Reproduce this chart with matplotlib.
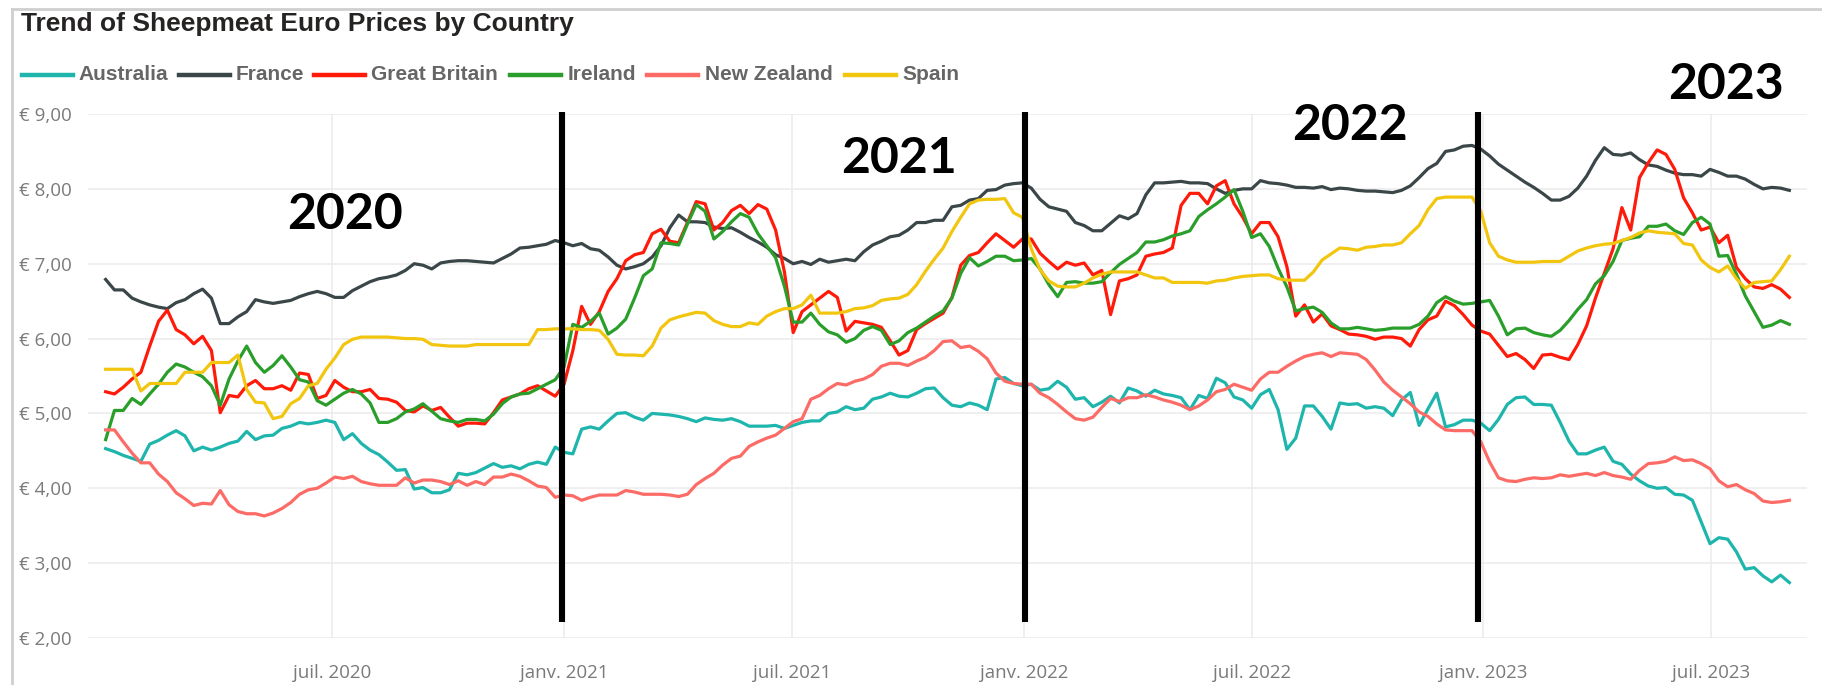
import numpy as np
import pandas as pd
import matplotlib
matplotlib.use("Agg")
import matplotlib.pyplot as plt
from matplotlib.lines import Line2D
from matplotlib.ticker import FuncFormatter

# ==================================================
# DATA  (weekly prices in euro)
# ==================================================
START = "2020-01-03"
N_WEEKS = 192

australia = [
    4.53, 4.49, 4.44, 4.40, 4.36, 4.59, 4.64, 4.71, 4.77, 4.70,
    4.50, 4.55, 4.51, 4.55, 4.60, 4.63, 4.76, 4.65, 4.70, 4.71,
    4.80, 4.83, 4.88, 4.86, 4.88, 4.91, 4.88, 4.65, 4.73, 4.60,
    4.51, 4.45, 4.35, 4.24, 4.25, 3.99, 4.01, 3.94, 3.94, 3.98,
    4.20, 4.18, 4.21, 4.27, 4.33, 4.28, 4.30, 4.26, 4.32, 4.35,
    4.32, 4.55, 4.48, 4.46, 4.79, 4.82, 4.79, 4.90, 5.00, 5.01,
    4.95, 4.91, 5.00, 4.99, 4.98, 4.96, 4.93, 4.89, 4.94, 4.92,
    4.91, 4.93, 4.89, 4.83, 4.83, 4.83, 4.84, 4.80, 4.84, 4.88,
    4.90, 4.90, 5.00, 5.02, 5.09, 5.05, 5.07, 5.19, 5.22, 5.27,
    5.23, 5.22, 5.27, 5.33, 5.34, 5.21, 5.11, 5.09, 5.14, 5.11,
    5.05, 5.46, 5.48, 5.40, 5.37, 5.39, 5.31, 5.33, 5.43, 5.35,
    5.19, 5.21, 5.09, 5.15, 5.23, 5.14, 5.34, 5.30, 5.23, 5.31,
    5.26, 5.24, 5.21, 5.05, 5.24, 5.20, 5.47, 5.41, 5.22, 5.18,
    5.07, 5.25, 5.32, 5.05, 4.52, 4.67, 5.10, 5.10, 4.96, 4.79,
    5.14, 5.12, 5.13, 5.07, 5.09, 5.07, 4.97, 5.18, 5.28, 4.84,
    5.06, 5.27, 4.82, 4.85, 4.91, 4.91, 4.87, 4.77, 4.92, 5.12,
    5.21, 5.22, 5.12, 5.12, 5.11, 4.88, 4.63, 4.46, 4.46, 4.51,
    4.55, 4.36, 4.32, 4.19, 4.10, 4.03, 4.00, 4.01, 3.92, 3.91,
    3.84, 3.55, 3.26, 3.34, 3.32, 3.15, 2.92, 2.94, 2.83, 2.75,
    2.84, 2.74,
]

france = [
    6.79, 6.65, 6.65, 6.54, 6.49, 6.45, 6.42, 6.40, 6.48, 6.52,
    6.60, 6.66, 6.54, 6.20, 6.20, 6.29, 6.36, 6.52, 6.49, 6.47,
    6.49, 6.51, 6.56, 6.60, 6.63, 6.60, 6.55, 6.55, 6.64, 6.70,
    6.76, 6.80, 6.82, 6.85, 6.91, 7.00, 6.98, 6.93, 7.01, 7.03,
    7.04, 7.04, 7.03, 7.02, 7.01, 7.07, 7.13, 7.21, 7.22, 7.24,
    7.26, 7.31, 7.28, 7.24, 7.27, 7.20, 7.18, 7.09, 6.98, 6.93,
    6.96, 7.00, 7.09, 7.24, 7.48, 7.65, 7.56, 7.56, 7.55, 7.49,
    7.47, 7.48, 7.42, 7.35, 7.29, 7.22, 7.12, 7.07, 7.00, 7.03,
    6.99, 7.06, 7.02, 7.04, 7.06, 7.04, 7.16, 7.25, 7.30, 7.36,
    7.38, 7.45, 7.55, 7.55, 7.58, 7.58, 7.76, 7.78, 7.85, 7.87,
    7.98, 7.99, 8.05, 8.07, 8.08, 8.01, 7.86, 7.76, 7.73, 7.70,
    7.55, 7.51, 7.44, 7.44, 7.54, 7.64, 7.60, 7.67, 7.92, 8.08,
    8.08, 8.09, 8.10, 8.08, 8.08, 8.07, 8.00, 7.94, 7.98, 8.00,
    8.00, 8.11, 8.08, 8.07, 8.05, 8.02, 8.02, 8.01, 8.03, 7.99,
    8.01, 8.00, 7.98, 7.97, 7.97, 7.96, 7.95, 7.98, 8.04, 8.15,
    8.27, 8.34, 8.50, 8.52, 8.57, 8.58, 8.53, 8.44, 8.33, 8.25,
    8.17, 8.09, 8.02, 7.94, 7.85, 7.85, 7.90, 8.01, 8.17, 8.38,
    8.55, 8.46, 8.45, 8.48, 8.39, 8.32, 8.30, 8.25, 8.21, 8.19,
    8.19, 8.17, 8.26, 8.22, 8.17, 8.17, 8.13, 8.06, 8.00, 8.02,
    8.01, 7.98,
]

great_britain = [
    5.29, 5.26, 5.35, 5.46, 5.55, 5.90, 6.23, 6.38, 6.12, 6.05,
    5.93, 6.03, 5.84, 5.01, 5.24, 5.22, 5.37, 5.44, 5.33, 5.33,
    5.37, 5.31, 5.54, 5.52, 5.20, 5.24, 5.44, 5.35, 5.29, 5.29,
    5.32, 5.20, 5.19, 5.15, 5.04, 5.02, 5.10, 5.04, 5.08, 4.95,
    4.83, 4.87, 4.87, 4.86, 5.01, 5.18, 5.22, 5.26, 5.33, 5.37,
    5.30, 5.23, 5.39, 5.84, 6.43, 6.19, 6.36, 6.63, 6.80, 7.04,
    7.12, 7.15, 7.40, 7.46, 7.30, 7.28, 7.55, 7.83, 7.80, 7.45,
    7.55, 7.71, 7.78, 7.67, 7.79, 7.73, 7.45, 6.89, 6.08, 6.36,
    6.45, 6.54, 6.63, 6.55, 6.10, 6.23, 6.21, 6.19, 6.15, 5.97,
    5.78, 5.84, 6.12, 6.20, 6.27, 6.34, 6.55, 6.98, 7.11, 7.15,
    7.28, 7.40, 7.31, 7.22, 7.33, 7.33, 7.14, 7.03, 6.93, 7.02,
    6.98, 7.01, 6.85, 6.91, 6.32, 6.77, 6.80, 6.85, 7.10, 7.13,
    7.15, 7.21, 7.78, 7.94, 7.94, 7.80, 8.04, 8.11, 7.80, 7.62,
    7.40, 7.55, 7.55, 7.36, 6.96, 6.30, 6.45, 6.22, 6.33, 6.17,
    6.12, 6.06, 6.05, 6.03, 5.99, 6.02, 6.02, 6.00, 5.90, 6.12,
    6.25, 6.30, 6.50, 6.44, 6.32, 6.18, 6.10, 6.06, 5.91, 5.76,
    5.80, 5.72, 5.60, 5.78, 5.79, 5.75, 5.72, 5.92, 6.17, 6.54,
    6.87, 7.20, 7.75, 7.45, 8.15, 8.35, 8.52, 8.46, 8.26, 7.88,
    7.68, 7.45, 7.49, 7.28, 7.38, 6.95, 6.80, 6.69, 6.67, 6.72,
    6.66, 6.55,
]

ireland = [
    4.65, 5.04, 5.04, 5.20, 5.12, 5.26, 5.39, 5.55, 5.66, 5.62,
    5.55, 5.49, 5.37, 5.11, 5.46, 5.70, 5.90, 5.68, 5.55, 5.64,
    5.77, 5.62, 5.45, 5.42, 5.17, 5.11, 5.19, 5.27, 5.32, 5.26,
    5.14, 4.88, 4.88, 4.93, 5.02, 5.06, 5.13, 5.03, 4.93, 4.90,
    4.88, 4.92, 4.92, 4.90, 4.99, 5.13, 5.22, 5.26, 5.27, 5.33,
    5.39, 5.45, 5.62, 6.19, 6.15, 6.23, 6.34, 6.06, 6.14, 6.26,
    6.54, 6.84, 6.93, 7.28, 7.27, 7.25, 7.53, 7.79, 7.70, 7.33,
    7.43, 7.56, 7.67, 7.62, 7.40, 7.24, 7.08, 6.70, 6.22, 6.22,
    6.34, 6.19, 6.09, 6.05, 5.95, 6.00, 6.11, 6.16, 6.11, 5.92,
    5.97, 6.08, 6.14, 6.22, 6.30, 6.37, 6.54, 6.87, 7.08, 6.97,
    7.03, 7.10, 7.10, 7.04, 7.05, 7.07, 6.93, 6.72, 6.56, 6.75,
    6.76, 6.74, 6.74, 6.76, 6.88, 6.99, 7.07, 7.15, 7.29, 7.29,
    7.32, 7.37, 7.40, 7.44, 7.63, 7.72, 7.80, 7.89, 7.99, 7.70,
    7.35, 7.40, 7.23, 6.94, 6.69, 6.37, 6.40, 6.42, 6.35, 6.21,
    6.13, 6.13, 6.15, 6.13, 6.11, 6.12, 6.14, 6.14, 6.14, 6.19,
    6.30, 6.48, 6.56, 6.50, 6.46, 6.47, 6.49, 6.51, 6.30, 6.05,
    6.13, 6.14, 6.08, 6.05, 6.03, 6.11, 6.24, 6.39, 6.52, 6.73,
    6.84, 7.03, 7.31, 7.34, 7.36, 7.50, 7.50, 7.53, 7.44, 7.39,
    7.55, 7.62, 7.53, 7.10, 7.11, 6.86, 6.57, 6.36, 6.15, 6.18,
    6.24, 6.19,
]

new_zealand = [
    4.78, 4.78, 4.62, 4.47, 4.34, 4.34, 4.19, 4.09, 3.94, 3.86,
    3.77, 3.80, 3.79, 3.97, 3.78, 3.69, 3.66, 3.66, 3.63, 3.67,
    3.73, 3.81, 3.92, 3.98, 4.00, 4.07, 4.15, 4.13, 4.16, 4.09,
    4.06, 4.04, 4.04, 4.04, 4.14, 4.07, 4.11, 4.11, 4.09, 4.05,
    4.10, 4.04, 4.09, 4.05, 4.15, 4.15, 4.19, 4.16, 4.10, 4.03,
    4.01, 3.88, 3.91, 3.90, 3.84, 3.88, 3.91, 3.91, 3.91, 3.97,
    3.95, 3.92, 3.92, 3.92, 3.91, 3.89, 3.92, 4.05, 4.13, 4.20,
    4.31, 4.40, 4.43, 4.56, 4.62, 4.67, 4.71, 4.80, 4.89, 4.93,
    5.19, 5.24, 5.33, 5.40, 5.38, 5.43, 5.46, 5.52, 5.63, 5.67,
    5.67, 5.64, 5.70, 5.75, 5.84, 5.96, 5.97, 5.88, 5.90, 5.83,
    5.73, 5.54, 5.43, 5.40, 5.39, 5.39, 5.27, 5.21, 5.12, 5.02,
    4.93, 4.91, 4.95, 5.08, 5.20, 5.16, 5.21, 5.21, 5.25, 5.22,
    5.18, 5.15, 5.11, 5.05, 5.10, 5.18, 5.29, 5.32, 5.39, 5.35,
    5.31, 5.46, 5.55, 5.55, 5.63, 5.70, 5.76, 5.79, 5.81, 5.76,
    5.81, 5.80, 5.79, 5.72, 5.58, 5.42, 5.31, 5.22, 5.13, 5.02,
    4.96, 4.86, 4.78, 4.77, 4.77, 4.77, 4.62, 4.35, 4.14, 4.10,
    4.09, 4.12, 4.14, 4.13, 4.14, 4.18, 4.16, 4.18, 4.20, 4.17,
    4.21, 4.17, 4.15, 4.12, 4.24, 4.33, 4.34, 4.36, 4.42, 4.37,
    4.38, 4.33, 4.26, 4.10, 4.02, 4.05, 3.98, 3.93, 3.83, 3.81,
    3.82, 3.84,
]

spain = [
    5.59, 5.59, 5.59, 5.59, 5.30, 5.40, 5.40, 5.40, 5.40, 5.55,
    5.55, 5.55, 5.68, 5.68, 5.68, 5.78, 5.32, 5.15, 5.14, 4.93,
    4.96, 5.13, 5.20, 5.37, 5.40, 5.59, 5.74, 5.92, 5.99, 6.02,
    6.02, 6.02, 6.02, 6.01, 6.00, 6.00, 5.99, 5.92, 5.91, 5.90,
    5.90, 5.90, 5.92, 5.92, 5.92, 5.92, 5.92, 5.92, 5.92, 6.12,
    6.12, 6.13, 6.13, 6.13, 6.12, 6.12, 6.11, 5.99, 5.79, 5.78,
    5.78, 5.77, 5.90, 6.14, 6.25, 6.29, 6.32, 6.35, 6.34, 6.24,
    6.19, 6.16, 6.16, 6.21, 6.19, 6.30, 6.36, 6.40, 6.40, 6.45,
    6.58, 6.34, 6.34, 6.34, 6.36, 6.40, 6.41, 6.44, 6.51, 6.53,
    6.54, 6.59, 6.72, 6.90, 7.06, 7.21, 7.43, 7.62, 7.80, 7.85,
    7.86, 7.86, 7.87, 7.68, 7.62, 7.20, 6.92, 6.77, 6.70, 6.69,
    6.69, 6.74, 6.81, 6.86, 6.89, 6.89, 6.89, 6.89, 6.85, 6.81,
    6.81, 6.75, 6.75, 6.75, 6.75, 6.74, 6.77, 6.78, 6.81, 6.83,
    6.84, 6.85, 6.85, 6.80, 6.78, 6.78, 6.78, 6.89, 7.05, 7.13,
    7.21, 7.20, 7.18, 7.22, 7.23, 7.25, 7.25, 7.28, 7.40, 7.51,
    7.72, 7.87, 7.89, 7.89, 7.89, 7.89, 7.70, 7.28, 7.10, 7.05,
    7.02, 7.02, 7.02, 7.03, 7.03, 7.03, 7.10, 7.17, 7.21, 7.24,
    7.26, 7.27, 7.31, 7.35, 7.41, 7.44, 7.42, 7.41, 7.40, 7.27,
    7.25, 7.05, 6.95, 6.89, 6.97, 6.80, 6.67, 6.75, 6.76, 6.77,
    6.92, 7.10,
]

COUNTRIES = ["Australia", "France", "Great Britain", "Ireland", "New Zealand", "Spain"]
SERIES = [australia, france, great_britain, ireland, new_zealand, spain]
COLORS = ["#1DB5AC", "#3A4648", "#FF1A0A", "#2A9E2A", "#FD6B66", "#F2C50F"]

X_TICKS = ["2020-07-01", "2021-01-01", "2021-07-01", "2022-01-01",
           "2022-07-01", "2023-01-01", "2023-07-01"]
X_TICK_LABELS = ["juil. 2020", "janv. 2021", "juil. 2021", "janv. 2022",
                 "juil. 2022", "janv. 2023", "juil. 2023"]

# hand drawn year markers on the original chart
YEAR_LINE_DATES = ["2020-12-30", "2022-01-02", "2022-12-28"]
YEAR_LABELS = ["2020", "2021", "2022", "2023"]
YEAR_LABEL_DATES = ["2020-07-11", "2021-09-24", "2022-09-17", "2023-07-13"]
YEAR_LABEL_VALUES = [7.66, 8.41, 8.85, 9.40]

# ==================================================
# FIGURE
# ==================================================
W, H = 1822, 685
fig = plt.figure(figsize=(W / 100, H / 100), dpi=100)
fig.patch.set_facecolor("white")

ax = fig.add_axes([88 / W, 1 - 638 / H, (1807 - 88) / W, (638 - 114) / H])

dates = pd.date_range(START, periods=N_WEEKS, freq="7D")
for name, vals, col in zip(COUNTRIES, SERIES, COLORS):
    ax.plot(dates, vals, color=col, lw=2.3, label=name, zorder=3)

# year separators + labels
ax.vlines(pd.to_datetime(YEAR_LINE_DATES), 2.21, 9.03, color="black", lw=4.4,
          zorder=6, clip_on=False)
for lab, d, v in zip(YEAR_LABELS, YEAR_LABEL_DATES, YEAR_LABEL_VALUES):
    ax.text(pd.Timestamp(d), v, lab, ha="center", va="center", fontsize=36,
            fontweight="bold", family="Lato", color="black", zorder=7, clip_on=False)

# axes styling
ax.set_ylim(2, 9)
ax.set_xlim(pd.Timestamp("2019-12-20"), pd.Timestamp("2023-09-15"))
ax.set_yticks(range(2, 10))
ax.yaxis.set_major_formatter(FuncFormatter(lambda v, p: f"€ {v:.2f}".replace(".", ",")))
ax.set_xticks(pd.to_datetime(X_TICKS))
ax.set_xticklabels(X_TICK_LABELS)
ax.grid(True, color="#ececec", lw=1.2, zorder=0)
ax.set_axisbelow(True)
for s in ax.spines.values():
    s.set_visible(False)
ax.tick_params(length=0, labelsize=13.5, labelcolor="#7a7a7a")
ax.tick_params(axis="y", pad=11.5)
ax.tick_params(axis="x", pad=19)
for t in ax.get_xticklabels() + ax.get_yticklabels():
    t.set_family("Open Sans")

# ==================================================
# TITLE + LEGEND
# ==================================================
fig.text(21 / W, 1 - 24 / H, "Trend of Sheepmeat Euro Prices by Country",
         ha="left", va="center", fontsize=19, fontweight="bold",
         family="Liberation Sans", color="#252423")

handle_x = [22, 179, 314, 510, 647, 845]
text_x = [78, 236, 371, 568, 705, 902]
leg_y = 1 - 75 / H
for name, col, hx, tx in zip(COUNTRIES, COLORS, handle_x, text_x):
    fig.add_artist(Line2D([hx / W, (hx + 51) / W], [leg_y, leg_y], color=col, lw=3.2))
    fig.text(tx / W, leg_y, name, ha="left", va="center", fontsize=15,
             fontweight="bold", family="Liberation Sans", color="#666666")

# visual frame (left + top edges)
fig.add_artist(Line2D([11.5 / W, 11.5 / W], [0, 1 - 9 / H], color="#cfcfcf", lw=2))
fig.add_artist(Line2D([11.5 / W, 1], [1 - 9 / H, 1 - 9 / H], color="#cfcfcf", lw=2))

plt.savefig("out.png", dpi=100)
plt.close()
